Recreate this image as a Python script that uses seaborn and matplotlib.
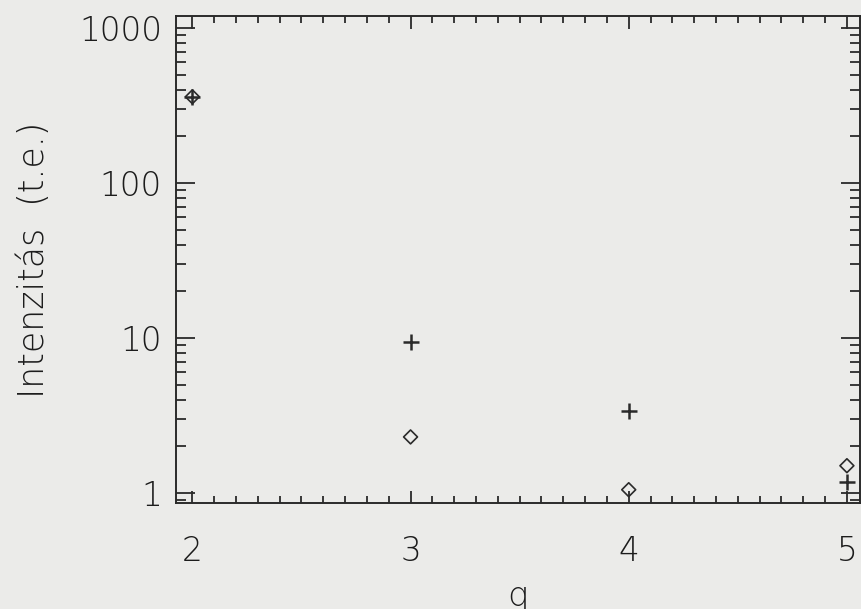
import numpy as np
import pandas as pd
import matplotlib
matplotlib.use("Agg")
import matplotlib.pyplot as plt
from matplotlib.ticker import FixedLocator, MultipleLocator, LogLocator, NullFormatter
import seaborn as sns

# Measured intensities per charge state q
q_values = [2, 3, 4, 5]
plus_series = [360, 9.4, 3.4, 1.18]
diamond_series = [360, 2.3, 1.05, 1.5]

y_ticks = [1, 10, 100, 1000]
y_tick_labels = ["1", "10", "100", "1000"]
x_tick_labels = ["2", "3", "4", "5"]

sns.set_style("ticks")
plt.rcParams["font.family"] = ["DejaVu Sans"]
plt.rcParams["font.weight"] = "light"

paper = "#ebebe9"
ink = "#2a2a2a"
text_ink = "#1c1c1c"

fig = plt.figure(figsize=(8.61, 6.09), dpi=100, facecolor=paper)
ax = fig.add_axes([176 / 861, 1 - 503 / 609, (860 - 176) / 861, (503 - 16) / 609])
ax.set_facecolor(paper)

df_plus = pd.DataFrame({"q": q_values, "I": plus_series})
df_dia = pd.DataFrame({"q": q_values, "I": diamond_series})

sns.scatterplot(data=df_plus, x="q", y="I", marker="+", s=120, color=ink,
                linewidth=1.8, ax=ax, zorder=3)
sns.scatterplot(data=df_dia, x="q", y="I", marker="D", s=50, facecolor="none",
                edgecolor=ink, linewidth=1.2, ax=ax, zorder=3)

ax.set_yscale("log")
ax.set_xlim(1.925, 5.06)
ax.set_ylim(0.862, 1195)

ax.xaxis.set_major_locator(FixedLocator(q_values))
ax.set_xticklabels(x_tick_labels, fontweight="light")
ax.xaxis.set_minor_locator(MultipleLocator(0.1))
ax.yaxis.set_major_locator(FixedLocator(y_ticks))
ax.set_yticklabels(y_tick_labels, fontweight="light")
ax.yaxis.set_minor_locator(LogLocator(base=10, subs=np.arange(2, 10)))
ax.yaxis.set_minor_formatter(NullFormatter())

for side in ["left", "right", "top", "bottom"]:
    ax.spines[side].set_visible(True)
    ax.spines[side].set_color(ink)
    ax.spines[side].set_linewidth(1.4)

ax.tick_params(axis="both", which="both", direction="in", colors=ink,
               top=True, right=True, width=1.3)
ax.tick_params(axis="x", which="major", length=9, pad=23, labelsize=23.5, labelcolor=text_ink)
ax.tick_params(axis="x", which="minor", length=5)
ax.tick_params(axis="y", which="major", length=14, pad=10, labelsize=23.5, labelcolor=text_ink)
ax.tick_params(axis="y", which="minor", length=7)

ax.set_xlabel("q", fontsize=24.5, color=text_ink, labelpad=9, fontweight="light")
ax.set_ylabel("Intenzitás  (t.e.)", fontsize=25, color=text_ink, labelpad=20,
              fontweight="light")

fig.savefig("out.png", dpi=100, facecolor=paper)
